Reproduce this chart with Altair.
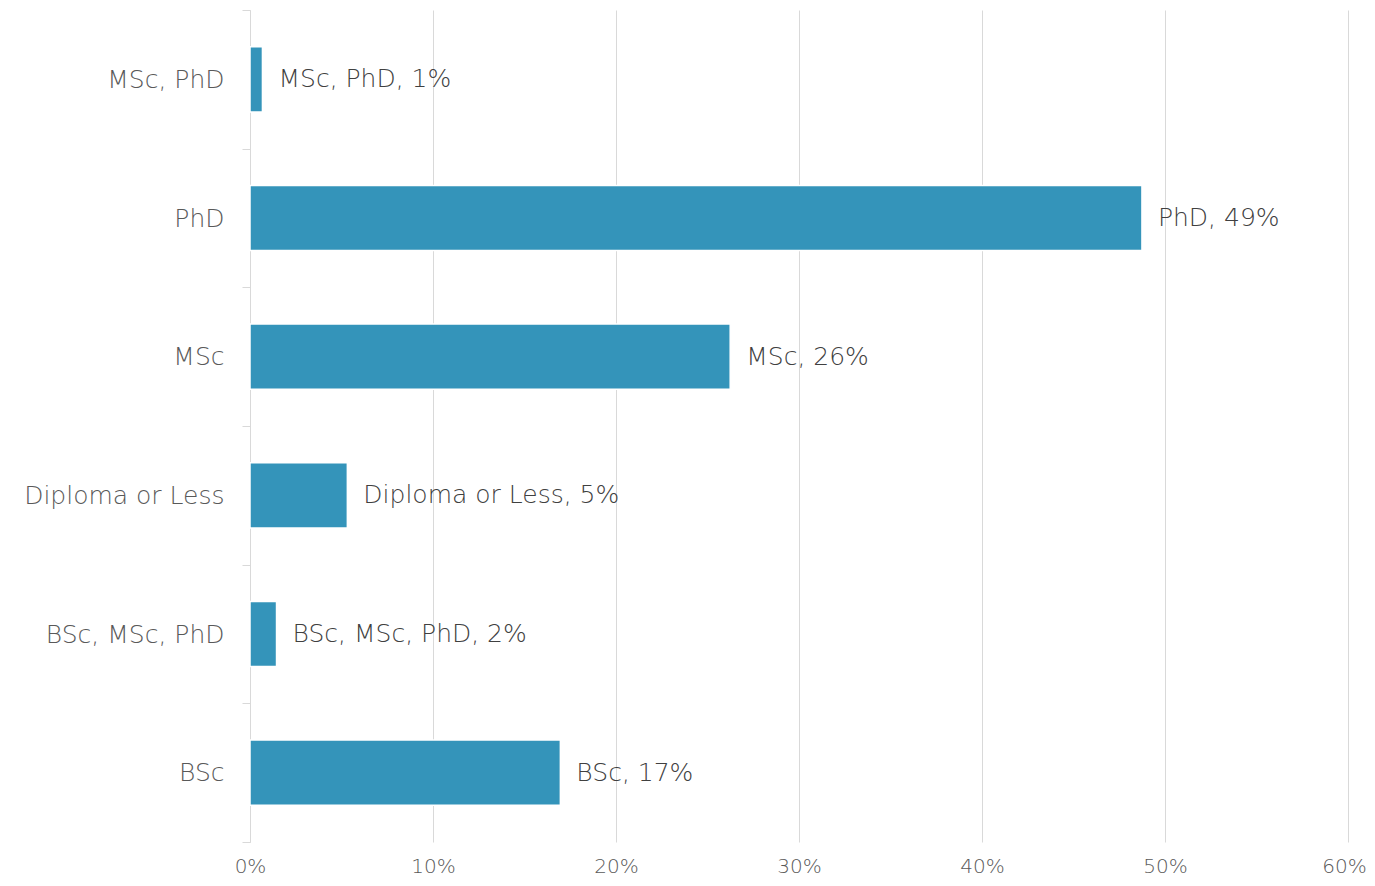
import altair as alt
import pandas as pd

categories = ["MSc, PhD", "PhD", "MSc", "Diploma or Less", "BSc, MSc, PhD", "BSc"]
values = [0.0068, 0.4874, 0.2624, 0.0532, 0.0145, 0.1696]
pct_labels = ["1%", "49%", "26%", "5%", "2%", "17%"]
x_ticks = [0, 0.1, 0.2, 0.3, 0.4, 0.5, 0.6]

df = pd.DataFrame({
    "category": categories,
    "value": values,
    "label": [f"{c}, {p}" for c, p in zip(categories, pct_labels)],
})

FONT = "DejaVu Sans"
y_enc = alt.Y("category:N", sort=categories, title=None,
              scale=alt.Scale(paddingInner=0, paddingOuter=0),
              axis=alt.Axis(tickBand="extent", domainColor="#d9d9d9", domainWidth=1,
                            tickColor="#d9d9d9", tickSize=8, tickWidth=1,
                            labelFont=FONT, labelFontSize=25, labelFontWeight=200,
                            labelColor="#595959", labelPadding=18, labelLimit=400,
                            grid=False))
x_enc = alt.X("value:Q", title=None,
              scale=alt.Scale(domain=[0, 0.6], nice=False),
              axis=alt.Axis(values=x_ticks, format=".0%", grid=True, gridColor="#d9d9d9",
                            gridWidth=1, domain=False, ticks=False, labelFlush=False,
                            labelOffset={"condition": {"test": "datum.value >= 0.59", "value": -4},
                                         "value": 0},
                            labelFont=FONT, labelFontSize=20, labelFontWeight=200,
                            labelColor="#595959", labelPadding=14))

bars = alt.Chart(df).mark_bar(color="#3494ba", stroke="white", strokeWidth=1.5,
                              height=alt.RelativeBandSize(0.47)).encode(x=x_enc, y=y_enc)
text = alt.Chart(df).mark_text(align="left", baseline="middle", dx=16, font=FONT,
                               fontSize=25, fontWeight=200, color="#404040").encode(
    x="value:Q", y=alt.Y("category:N", sort=categories), text="label:N")

chart = (bars + text).properties(
    width=1098, height=832,
    autosize=alt.AutoSizeParams(type="none"),
    padding={"left": 242, "top": 2, "right": 19, "bottom": 36},
).configure_view(stroke=None)

chart.save("out.html", embed_options={"renderer": "svg", "actions": False})
